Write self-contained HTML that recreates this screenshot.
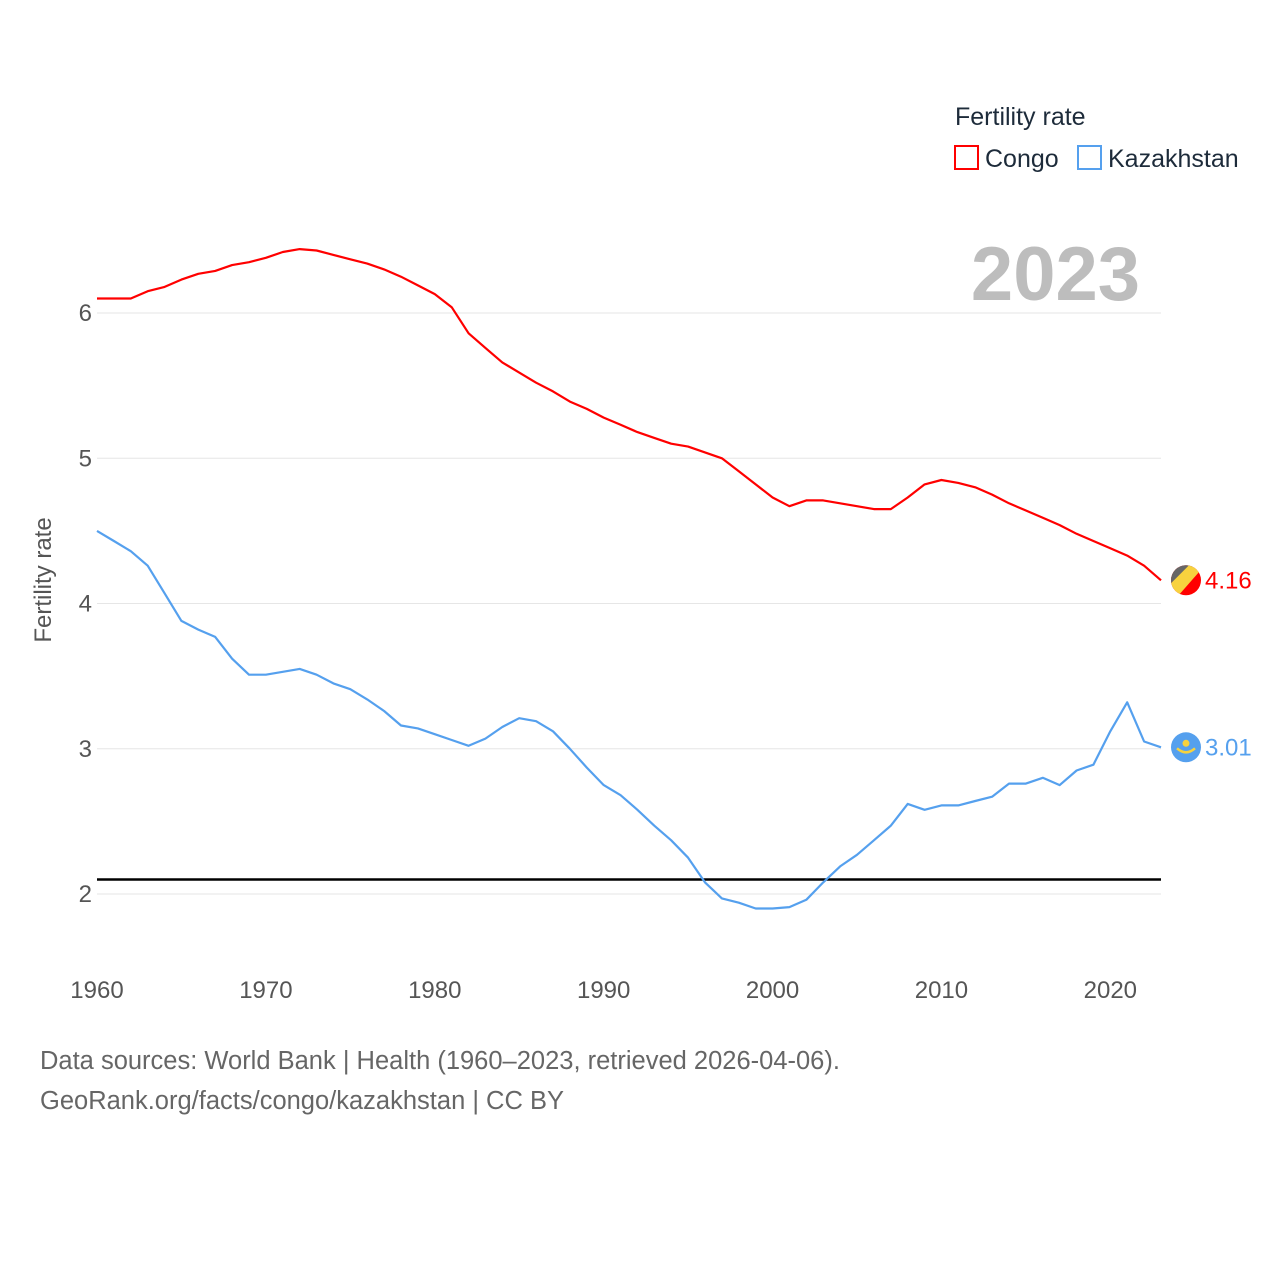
<!DOCTYPE html>
<html><head><meta charset="utf-8"><style>
html,body{margin:0;padding:0;background:#fff;}
svg{display:block;font-family:"Liberation Sans",sans-serif;}
</style></head><body>
<svg id="chart" width="1280" height="1280" viewBox="0 0 1280 1280">
<g id="grid"></g>
<g id="axes"></g>
<g id="series"></g>
<text x="51" y="580" transform="rotate(-90 51 580)" text-anchor="middle" font-size="24" fill="#555">Fertility rate</text>
<text x="1140" y="300" text-anchor="end" font-size="76" font-weight="bold" fill="#bdbdbd">2023</text>
<text x="955" y="125" font-size="25" fill="#1d2b3a">Fertility rate</text>
<g><rect x="955" y="146" width="23" height="23" fill="none" stroke="#f00" stroke-width="2"/><text x="985" y="167" font-size="25" fill="#1d2b3a">Congo</text></g>
<g><rect x="1078" y="146" width="23" height="23" fill="none" stroke="#55a0ee" stroke-width="2"/><text x="1108" y="167" font-size="25" fill="#1d2b3a">Kazakhstan</text></g>
<text x="40" y="1069" font-size="25.5" fill="#666">Data sources: World Bank | Health (1960–2023, retrieved 2026-04-06).</text>
<text x="40" y="1109" font-size="25.5" fill="#666">GeoRank.org/facts/congo/kazakhstan | CC BY</text>
</svg>
<script>
const years=[];for(let y=1960;y<=2023;y++)years.push(y);
const congo=[6.10,6.10,6.10,6.15,6.18,6.23,6.27,6.29,6.33,6.35,6.38,6.42,6.44,6.43,6.40,6.37,6.34,6.30,6.25,6.19,6.13,6.04,5.86,5.76,5.66,5.59,5.52,5.46,5.39,5.34,5.28,5.23,5.18,5.14,5.10,5.08,5.04,5.00,4.91,4.82,4.73,4.67,4.71,4.71,4.69,4.67,4.65,4.65,4.73,4.82,4.85,4.83,4.80,4.75,4.69,4.64,4.59,4.54,4.48,4.43,4.38,4.33,4.26,4.16];
const kaz=[4.50,4.43,4.36,4.26,4.07,3.88,3.82,3.77,3.62,3.51,3.51,3.53,3.55,3.51,3.45,3.41,3.34,3.26,3.16,3.14,3.10,3.06,3.02,3.07,3.15,3.21,3.19,3.12,3.00,2.87,2.75,2.68,2.58,2.47,2.37,2.25,2.08,1.97,1.94,1.90,1.90,1.91,1.96,2.08,2.19,2.27,2.37,2.47,2.62,2.58,2.61,2.61,2.64,2.67,2.76,2.76,2.80,2.75,2.85,2.89,3.12,3.32,3.05,3.01];
const yTicks=[2,3,4,5,6];
const xTicks=[1960,1970,1980,1990,2000,2010,2020];
const replacement=2.1;
const NS='http://www.w3.org/2000/svg';
const X=y=>97+(y-1960)*(1161-97)/63;
const Y=v=>894-(v-2)*145.25;
function mk(tag,attrs,parent,text){const e=document.createElementNS(NS,tag);for(const k in attrs)e.setAttribute(k,attrs[k]);if(text!==undefined)e.textContent=text;parent.appendChild(e);return e;}
const grid=document.getElementById('grid'),axes=document.getElementById('axes'),series=document.getElementById('series');
yTicks.forEach(t=>{
 const l=mk('line',{x1:97,x2:1161,y1:Y(t),y2:Y(t),stroke:'#e6e6e6','stroke-width':1},grid);
 
 
 const tx=mk('text',{x:92,y:Y(t)+8,'text-anchor':'end','font-size':24,fill:'#555'},axes,String(t));
 
 
});
xTicks.forEach(t=>{
 const tx=mk('text',{x:X(t),y:998,'text-anchor':'middle','font-size':24,fill:'#555'},axes,String(t));
 
 
});
const rl=mk('line',{x1:97,x2:1161,y1:Y(replacement),y2:Y(replacement),stroke:'#000','stroke-width':2.5},series);


function line(vals,color,name){
 const d=vals.map((v,i)=>(i?'L':'M')+X(years[i]).toFixed(1)+','+Y(v).toFixed(1)).join('');
 const p=mk('path',{d:d,fill:'none',stroke:color,'stroke-width':2.2,'stroke-linejoin':'round'},series);
 
 
}
line(kaz,'#55a0ee','kazakhstan-line');
line(congo,'#f00','congo-line');
const lastC=congo[congo.length-1],lastK=kaz[kaz.length-1];
const cy=Y(lastC),ky=Y(lastK);
const g1=mk('g',{},series);


mk('clipPath',{id:'cc'},g1);
mk('circle',{cx:1186,cy:cy,r:15},document.getElementById('cc'));
const fg=mk('g',{'clip-path':'url(#cc)'},g1);
mk('rect',{x:1170,y:cy-16,width:32,height:32,fill:'#f00'},fg);
mk('polygon',{points:`1168,${cy+14} 1168,${cy-18} 1198,${cy-18}`,fill:'#666'},fg);
mk('polygon',{points:`1168,${cy+6} 1192,${cy-18} 1204,${cy-14} 1176,${cy+18}`,fill:'#f7d23e'},fg);
const t1=mk('text',{x:1205,y:cy+8,'font-size':24,fill:'#f00'},series,lastC.toFixed(2));


const g2=mk('g',{},series);


mk('circle',{cx:1186,cy:ky,r:15,fill:'#55a0ee'},g2);
mk('circle',{cx:1186,cy:ky-4,r:3.5,fill:'#f7d23e'},g2);
mk('path',{d:`M1177,${ky+1} Q1186,${ky+9} 1195,${ky+1}`,fill:'none',stroke:'#f7d23e','stroke-width':2.5},g2);
const t2=mk('text',{x:1205,y:ky+8,'font-size':24,fill:'#55a0ee'},series,lastK.toFixed(2));


</script>
</body></html>
